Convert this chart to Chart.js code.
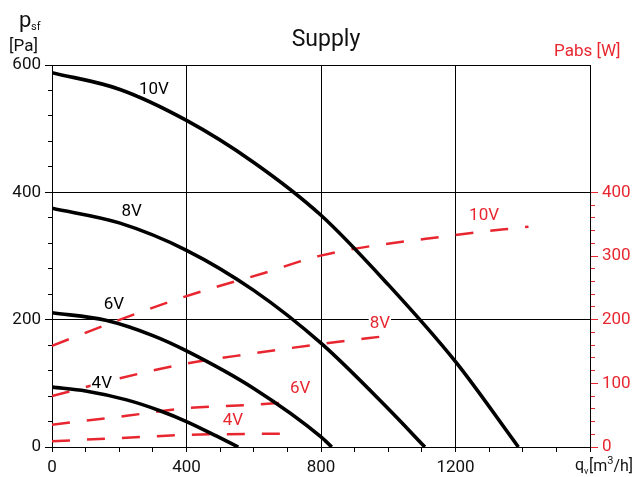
<!DOCTYPE html>
<html>
<head>
<meta charset="utf-8">
<script src="https://cdn.jsdelivr.net/npm/chart.js@4.4.0/dist/chart.umd.min.js"></script>
<style>
  html, body { margin: 0; padding: 0; background: #fff; }
  #wrap { width: 642px; height: 477px; position: relative; }
</style>
</head>
<body>
<div id="wrap"><canvas id="c" width="642" height="477"></canvas></div>
<script>
// Fan curves: static pressure p_sf [Pa] against airflow q_v [m3/h], one per control voltage
const flow10V = [0, 200, 400, 600, 800, 1000, 1200, 1387];
const pressure10V = [588, 562, 513, 447, 364, 255, 134, 0];
const flow8V = [0, 200, 400, 600, 800, 1000, 1109];
const pressure8V = [375, 352, 309, 246, 163, 60, 0];
const flow6V = [0, 160, 300, 400, 600, 800, 832];
const pressure6V = [211, 199, 175, 151, 92, 16, 0];
const flow4V = [0, 100, 222, 321, 400, 490, 554];
const pressure4V = [94, 88, 74, 57, 40, 17, 0];

// Absorbed power Pabs [W] against airflow
const powerFlow10V = [0, 192, 400, 629, 802, 1200, 1417];
const power10V = [159, 198, 237, 273, 301, 333, 346];
const powerFlow8V = [0, 202, 400, 599, 802, 1005];
const power8V = [80, 108, 131, 147, 162, 175];
const powerFlow6V = [0, 222, 400, 579, 702];
const power6V = [35, 49, 61, 66, 70];
const powerFlow4V = [0, 200, 400, 702];
const power4V = [9, 14, 19, 21];

// Axis tick labels
const flowTicks = [0, 400, 800, 1200];
const pressureTicks = [0, 200, 400, 600];
const powerTicks = [0, 100, 200, 300, 400];
const curveNames = ['10V', '8V', '6V', '4V'];

// Where each curve name sits, in axis units (flow, pressure) / (flow, power)
const pressureNameAt = [[303, 564], [237, 372], [184, 226], [148, 102]];
const powerNameAt = [[1285, 366], [975, 197], [738, 94], [538, 44]];

const RED = '#e8262f';
const FONT = 'Roboto, "DejaVu Sans", sans-serif';
const CLEAR = 'rgba(0,0,0,0)';

const pts = (xs, ys) => xs.map((x, i) => ({ x: x, y: ys[i] }));
const pressureSet = (xs, ys) => ({
  data: pts(xs, ys), yAxisID: 'y', showLine: true, borderColor: '#000',
  borderWidth: 3.6, pointRadius: 0, cubicInterpolationMode: 'monotone', fill: false
});
const powerSet = (xs, ys) => ({
  data: pts(xs, ys), yAxisID: 'yPower', showLine: true, borderColor: RED,
  borderWidth: 2.5, borderDash: [18, 17], pointRadius: 0,
  cubicInterpolationMode: 'monotone', fill: false
});

const tickFont = { family: FONT, size: 17 };

// Curve names and axis captions
const captions = {
  id: 'captions',
  afterDatasetsDraw(chart) {
    const ctx = chart.ctx;
    const xs = chart.scales.x, yp = chart.scales.y, yw = chart.scales.yPower;
    ctx.save();
    ctx.font = '17px ' + FONT;
    ctx.textAlign = 'center';
    ctx.textBaseline = 'alphabetic';
    const tag = (text, px, py, color) => {
      const w = ctx.measureText(text).width;
      ctx.fillStyle = '#fff';
      ctx.fillRect(px - w / 2 - 1, py - 8, w + 2, 15);
      ctx.fillStyle = color;
      ctx.fillText(text, px, py + 6);
    };
    curveNames.forEach((name, i) => {
      tag(name, xs.getPixelForValue(pressureNameAt[i][0]), yp.getPixelForValue(pressureNameAt[i][1]), '#000');
      tag(name, xs.getPixelForValue(powerNameAt[i][0]), yw.getPixelForValue(powerNameAt[i][1]), RED);
    });
    ctx.restore();
  },
  afterDraw(chart) {
    const ctx = chart.ctx;
    ctx.save();
    ctx.textBaseline = 'alphabetic';
    ctx.fillStyle = '#111';
    ctx.textAlign = 'center';
    ctx.font = '23px ' + FONT;
    ctx.fillText('Supply', 326, 46);

    ctx.textAlign = 'left';
    ctx.font = '22px ' + FONT;
    ctx.fillText('p', 19, 27);
    ctx.font = '11px ' + FONT;
    ctx.fillText('sf', 31, 30);
    ctx.font = '17px ' + FONT;
    ctx.fillText('[Pa]', 9, 51);

    ctx.font = '16px ' + FONT;
    ctx.fillText('q', 575, 470);
    ctx.font = '9px ' + FONT;
    ctx.fillText('v', 584, 474);
    ctx.font = '16px ' + FONT;
    ctx.fillText('[m', 589, 471);
    let x = 589 + ctx.measureText('[m').width;
    ctx.font = '11px ' + FONT;
    ctx.fillText('3', x, 464);
    x += ctx.measureText('3').width;
    ctx.font = '16px ' + FONT;
    ctx.fillText('/h]', x, 471);

    ctx.fillStyle = RED;
    ctx.font = '17px ' + FONT;
    ctx.fillText('Pabs [W]', 554, 56);
    ctx.restore();
  }
};

new Chart(document.getElementById('c'), {
  type: 'scatter',
  data: {
    datasets: [
      pressureSet(flow10V, pressure10V),
      pressureSet(flow8V, pressure8V),
      pressureSet(flow6V, pressure6V),
      pressureSet(flow4V, pressure4V),
      powerSet(powerFlow10V, power10V),
      powerSet(powerFlow8V, power8V),
      powerSet(powerFlow6V, power6V),
      powerSet(powerFlow4V, power4V)
    ]
  },
  options: {
    responsive: false,
    animation: false,
    layout: { padding: { top: 65, left: 0, right: 0, bottom: 0 } },
    plugins: { legend: { display: false }, tooltip: { enabled: false }, title: { display: false } },
    scales: {
      x: {
        type: 'linear', position: 'bottom', min: 0, max: 1600,
        afterFit: s => { s.height = 30; },
        ticks: {
          stepSize: 100, autoSkip: false, maxRotation: 0, padding: 6, color: '#111', font: tickFont,
          callback: v => flowTicks.includes(v) ? String(v) : ''
        },
        grid: {
          color: c => (c.tick && [400, 800, 1200].includes(c.tick.value)) ? '#000' : CLEAR,
          lineWidth: 1, tickLength: 5, tickColor: '#000'
        },
        border: { color: '#000', width: 1 }
      },
      y: {
        type: 'linear', position: 'left', min: 0, max: 600, weight: 0,
        afterFit: s => { s.width = 52; },
        ticks: {
          stepSize: 200, autoSkip: false, padding: 4, color: '#111', font: tickFont,
          callback: v => pressureTicks.includes(v) ? String(v) : ''
        },
        grid: { color: '#000', lineWidth: 1, tickLength: 7, tickColor: '#000' },
        border: { color: '#000', width: 1 }
      },
      yMinor: {
        type: 'linear', position: 'left', min: 0, max: 600, weight: -1,
        afterFit: s => { s.width = 0; },
        ticks: { stepSize: 40, autoSkip: false, display: false },
        grid: { drawOnChartArea: false, tickLength: 4, tickColor: '#000', lineWidth: 1 },
        border: { display: false }
      },
      yPower: {
        type: 'linear', position: 'right', min: 0, max: 600, weight: 0,
        afterFit: s => { s.width = 52; },
        ticks: {
          stepSize: 100, autoSkip: false, padding: 4, color: RED, font: tickFont,
          callback: v => powerTicks.includes(v) ? String(v) : ''
        },
        grid: {
          drawOnChartArea: false, tickLength: 8, lineWidth: 1,
          tickColor: c => (c.tick && c.tick.value <= 400) ? RED : CLEAR
        },
        border: { color: '#000', width: 1 }
      },
      yPowerMinor: {
        type: 'linear', position: 'right', min: 0, max: 600, weight: -1,
        afterFit: s => { s.width = 0; },
        ticks: { stepSize: 20, autoSkip: false, display: false },
        grid: {
          drawOnChartArea: false, tickLength: 5, lineWidth: 1,
          tickColor: c => (c.tick && c.tick.value <= 400) ? RED : CLEAR
        },
        border: { display: false }
      }
    }
  },
  plugins: [captions]
});
</script>
</body>
</html>
